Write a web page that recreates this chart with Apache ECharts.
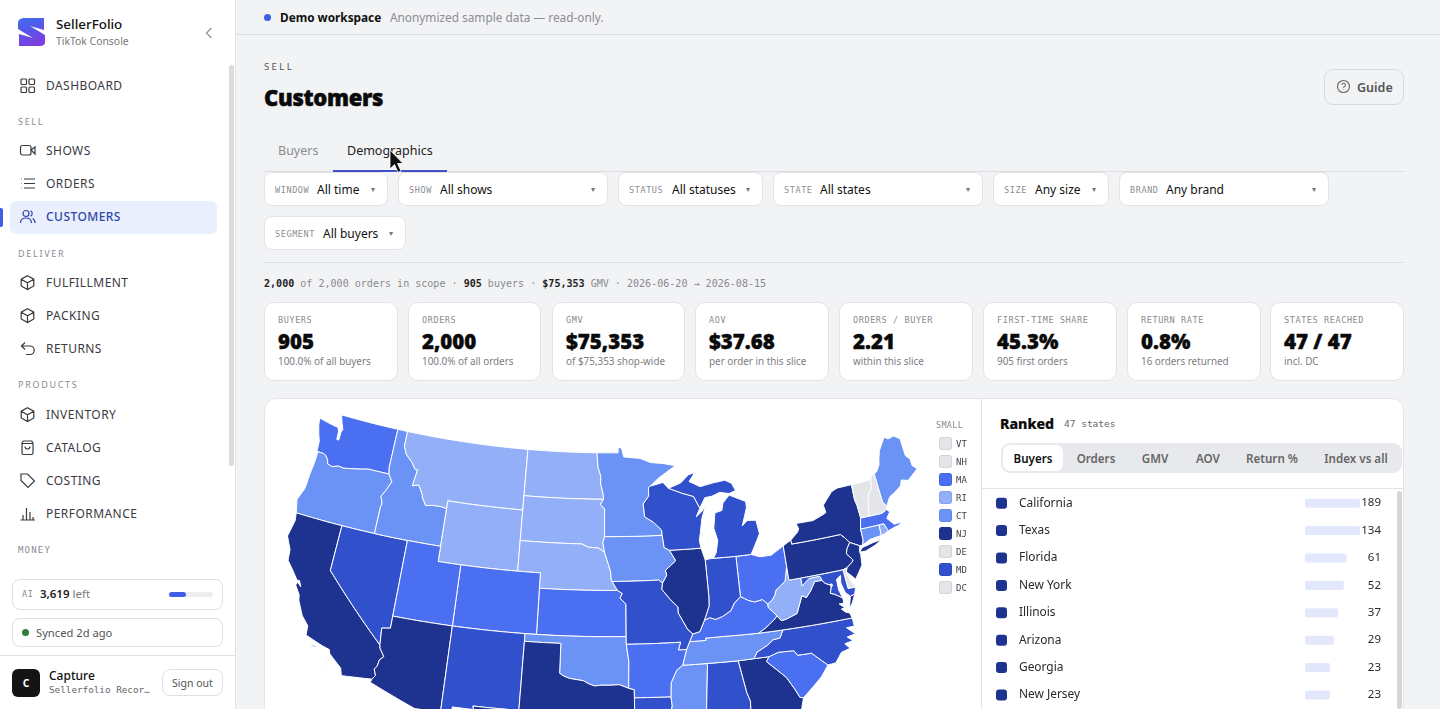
<!DOCTYPE html>
<html>
<head>
<meta charset="utf-8">
<title>Customers</title>
<script src="https://cdn.jsdelivr.net/npm/echarts@6/dist/echarts.min.js"></script>
<style>
html,body{margin:0;padding:0;width:1440px;height:709px;overflow:hidden;background:#f2f3f5;font-family:"Noto Sans",sans-serif;color:#111}
.a{position:absolute;white-space:nowrap;line-height:1}
.mono{font-family:"DejaVu Sans Mono",monospace}
.box{position:absolute;box-sizing:border-box;background:#fff;border:1px solid #e3e4e8}
.vc{transform:translateY(calc(-50% + 1px))}
.hc{transform:translate(-50%,calc(-50% + 1px))}
svg{position:absolute;overflow:visible}
</style>
</head>
<body>
<div id="page"></div>

<div class="box" style="left:264px;top:398px;width:1140px;height:500px;border-radius:12px"></div>
<div id="mapChart" style="position:absolute;left:265px;top:399px;width:716px;height:500px"></div>
<div id="rankChart" style="position:absolute;left:983px;top:488px;width:414px;height:230px"></div>

<script>
var stateNames = ['California','Texas','Florida','New York','Illinois','Arizona','Georgia','New Jersey','Pennsylvania','Virginia',
    'Michigan','North Carolina','Missouri','Nevada','Indiana','Wisconsin','Alabama','Maryland','Louisiana','New Mexico',
    'Washington','Colorado','Ohio','South Carolina','Kentucky','Massachusetts','Utah','Kansas','Arkansas',
    'Oregon','Minnesota','Oklahoma','Tennessee','Iowa','Mississippi','Idaho','Maine','Connecticut',
    'Montana','Nebraska','West Virginia','Wyoming','North Dakota','South Dakota','Rhode Island',
    'Vermont','New Hampshire','Delaware','District of Columbia'];
var stateBuyers = [189,134,61,52,37,29,23,23,21,20,
    19,18,16,14,14,13,13,13,13,12,
    11,11,11,10,9,9,8,8,8,
    6,6,6,6,5,5,4,4,4,
    3,3,3,2,2,2,2,
    0,0,0,0];

var bucketFloors = [0,1,4,7,12,20];
var bucketColors = ['#e4e5e9','#92aff8','#6b92f5','#4a6ff0','#3150cb','#1d338f'];

// ranked list
var rankedStates = ['California','Texas','Florida','New York','Illinois','Arizona','Georgia','New Jersey'];
var rankedBuyers = [189,134,61,52,37,29,23,23];

// legend for the states too small to see
var smallStates = ['Vermont','New Hampshire','Massachusetts','Rhode Island','Connecticut','New Jersey','Delaware','Maryland','District of Columbia'];
var smallCodes = ['VT','NH','MA','RI','CT','NJ','DE','MD','DC'];

// page text
var navRows = [
    ['DASHBOARD',85,'grid'],['SHOWS',150,'video'],['ORDERS',183,'list'],['CUSTOMERS',216,'users'],
    ['FULFILLMENT',282,'cube'],['PACKING',315,'cube'],['RETURNS',348,'back'],
    ['INVENTORY',414,'cube'],['CATALOG',447,'bag'],['COSTING',480,'tag'],['PERFORMANCE',513,'bars']
];
var navHeads = [['SELL',121],['DELIVER',253],['PRODUCTS',384]];
var filters = [
    ['WINDOW','All time',264,124,172,317],['SHOW','All shows',398,210,172,440],['STATUS','All statuses',618,145,172,672],
    ['STATE','All states',773,210,172,820],['SIZE','Any size',993,116,172,1035],['BRAND','Any brand',1119,210,172,1166],
    ['SEGMENT','All buyers',264,142,216,323]
];
var cards = [
    ['BUYERS','905','100.0% of all buyers',264,134],['ORDERS','2,000','100.0% of all orders',408,133],
    ['GMV','$75,353','of $75,353 shop-wide',552,133],['AOV','$37.68','per order in this slice',695,134],
    ['ORDERS / BUYER','2.21','within this slice',839,134],['FIRST-TIME SHARE','45.3%','905 first orders',983,134],
    ['RETURN RATE','0.8%','16 orders returned',1127,134],['STATES REACHED','47 / 47','incl. DC',1270,134]
];
var rankTabs = [['Buyers',1033],['Orders',1096],['GMV',1155],['AOV',1208],['Return %',1272],['Index vs all',1356]];

// 州界 - shared borders in lon/lat, so neighbours meet exactly
var borders = {
    wa_or:'-123.95 46.23,-123.4 46.22,-123.15 46.15,-122.85 45.9,-122.75 45.65,-122.3 45.55,-121.7 45.7,-121.2 45.65,-120.6 45.74,-119.95 45.83,-119.3 45.93,-118.98 46,-116.92 46',
    or_id:'-116.92 46,-116.5 45.55,-116.85 44.95,-117.2 44.45,-117.03 44.2,-116.95 43.95,-117.03 43.8,-117.03 42',
    id_mt:'-116.05 49,-116.05 48,-115.7 47.5,-115 47.05,-114.6 46.65,-114.35 46.65,-114.45 46.15,-114.55 45.56,-114 45.7,-113.8 45.5,-113.45 45.05,-113.45 44.95,-113 44.45,-112.3 44.55,-111.5 44.55,-111.05 44.48',
    colorado:'-114.63 35,-114.57 34.8,-114.14 34.3,-114.43 34.05,-114.52 33.6,-114.7 33.4,-114.5 33,-114.72 32.72',
    red:'-94.48 33.64,-95.2 33.88,-96 33.85,-96.6 33.85,-97.2 33.8,-97.7 33.95,-98.1 34.13,-99.2 34.25,-99.7 34.4,-100 34.56',
    sd_ne:'-104.05 43,-98.5 43,-97.9 42.8,-97 42.75,-96.45 42.49',
    ne_ia:'-96.45 42.49,-96.1 41.7,-95.9 41.2,-95.85 40.7,-95.77 40.58',
    ne_mo:'-95.77 40.58,-95.31 40',
    ks_mo:'-95.31 40,-94.9 39.8,-95.1 39.5,-94.6 39.11,-94.62 37',
    ks_ok:'-94.62 37,-102.05 37',
    sd_ia:'-96.45 42.49,-96.6 43.1,-96.45 43.5',
    sd_mn:'-96.45 43.5,-96.45 45.3,-96.85 45.6,-96.56 45.94',
    nd_mn:'-96.56 45.94,-96.6 46.3,-96.83 46.9,-96.85 47.5,-97.1 48,-97.23 49',
    mn_wi:'-92.1 46.75,-92.3 46.66,-92.3 46.1,-92.85 45.6,-92.75 44.75,-92 44.4,-91.25 43.85,-91.22 43.5',
    ia_wi:'-91.22 43.5,-91.1 42.7,-90.65 42.5',
    ia_il:'-90.65 42.5,-90.15 41.8,-91.1 41.2,-91 40.9,-91.4 40.4',
    ia_mo:'-91.4 40.4,-91.72 40.6,-95.77 40.58',
    mo_il:'-91.4 40.4,-91.5 40,-90.7 39.2,-90.2 38.8,-90.2 38.4,-89.5 37.3,-89.1 36.98',
    mo_ky:'-89.1 36.98,-89.4 36.5',
    mo_tn:'-89.4 36.5,-89.7 36',
    mo_ar:'-89.7 36,-90.37 36,-90.15 36.5,-94.62 36.5',
    mo_ok:'-94.62 36.5,-94.62 37',
    ar_tn:'-89.7 36,-90.1 35',
    ar_ms:'-90.1 35,-90.6 34.7,-91.1 33.9,-91.17 33',
    ar_la:'-91.17 33,-94.04 33.02',
    ar_tx:'-94.04 33.02,-94.04 33.55,-94.48 33.64',
    ar_ok:'-94.48 33.64,-94.43 35.4,-94.62 36.5',
    tx_la:'-94.04 33.02,-94.04 32,-93.55 31.2,-93.75 30.4,-93.84 29.7',
    la_ms:'-91.17 33,-91.1 32.4,-91.6 31,-89.75 31,-89.6 30.2',
    ms_al:'-88.2 35,-88.1 34.9,-88.47 31.9,-88.4 30.35',
    ms_tn:'-90.1 35,-88.2 35',
    al_tn:'-88.2 35,-85.6 34.98',
    al_ga:'-85.6 34.98,-85.2 32.85,-85 32.3,-85.05 31.55,-85 31',
    al_fl:'-85 31,-87.6 31,-87.5 30.3',
    ga_tn:'-85.6 34.98,-84.32 35',
    ga_nc:'-84.32 35,-83.1 35',
    ga_sc:'-83.1 35,-83.35 34.7,-82.75 34.2,-81.95 33.5,-81.4 32.6,-81.15 32.1,-80.88 32.03',
    ga_fl:'-85 31,-84.86 30.7,-82.2 30.57,-82.05 30.36,-81.4 30.7',
    nc_sc:'-83.1 35,-82.3 35.2,-81.05 35.15,-80.8 34.82,-79.67 34.8,-78.55 33.86',
    nc_tn:'-84.32 35,-84 35.4,-83.1 35.75,-82.6 36.05,-82 36.1,-81.68 36.59',
    nc_va:'-81.68 36.59,-75.87 36.55',
    tn_va:'-81.68 36.59,-83.68 36.6',
    ky_tn:'-83.68 36.6,-86.5 36.65,-88.07 36.65,-88.07 36.5,-89.4 36.5',
    ky_va:'-83.68 36.6,-83.1 36.85,-82.3 37.3,-81.97 37.54',
    ky_wv:'-81.97 37.54,-82.6 38.17,-82.6 38.4',
    ky_oh:'-82.6 38.4,-83 38.73,-83.7 38.65,-84.2 38.8,-84.82 39.1',
    ky_in:'-84.82 39.1,-85.4 38.73,-85.75 38.27,-86.5 37.95,-87.1 37.8,-87.6 37.95,-88.05 37.8',
    ky_il:'-88.05 37.8,-88.5 37.1,-89.1 36.98',
    il_in:'-88.05 37.8,-87.55 38.7,-87.5 39.35,-87.53 41.7',
    in_lake:'-87.53 41.7,-87.2 41.75,-86.8 41.76',
    in_mi:'-86.8 41.76,-84.8 41.73',
    in_oh:'-84.8 41.73,-84.82 39.1',
    mi_oh:'-84.8 41.73,-83.45 41.73',
    mi_wi:'-87.6 45.1,-88.1 45.9,-89.1 46.15,-90.4 46.55',
    oh_wv:'-82.6 38.4,-82.2 38.6,-81.9 38.9,-81.75 39.2,-80.85 39.7,-80.52 40.64',
    oh_pa:'-80.52 40.64,-80.52 41.98',
    pa_wv:'-80.52 40.64,-80.52 39.72,-79.48 39.72',
    md_pa:'-79.48 39.72,-75.79 39.72',
    md_wv:'-79.48 39.72,-79.48 39.2,-78.8 39.6,-78.35 39.62,-77.83 39.6,-77.72 39.32',
    va_wv:'-77.72 39.32,-78.35 39.35,-78.87 38.77,-79.3 38.42,-79.65 38.58,-80.3 37.5,-81.25 37.25,-81.68 37.2,-81.97 37.54',
    md_va:'-77.72 39.32,-77.52 39.1,-77.12 38.93,-77.05 38.8,-77.25 38.4,-76.95 38.3,-76.3 37.95',
    md_de:'-75.79 39.72,-75.7 38.46,-75.05 38.45',
    de_pa:'-75.79 39.72,-75.42 39.8',
    nj_pa:'-75.42 39.8,-74.9 40.07,-74.75 40.2,-75.2 40.7,-75.05 41,-74.7 41.36',
    ny_pa:'-74.7 41.36,-75.05 41.75,-75.35 42,-79.76 42,-79.76 42.27',
    nj_ny:'-74.7 41.36,-73.9 41',
    ny_ct:'-73.65 41,-73.5 41.3,-73.5 42.05',
    ny_ma:'-73.5 42.05,-73.25 42.75',
    ny_vt:'-73.25 42.75,-73.3 43.6,-73.4 44,-73.35 45',
    ct_ma:'-73.5 42.05,-71.8 42.02',
    ma_ri:'-71.8 42.02,-71.38 42.02,-71.15 41.5',
    ct_ri:'-71.8 42.02,-71.86 41.32',
    ma_vt:'-73.25 42.75,-72.45 42.73',
    ma_nh:'-72.45 42.73,-71.3 42.7,-70.82 42.87',
    nh_vt:'-72.45 42.73,-72.3 43.5,-72.05 44.1,-71.6 44.5,-71.5 45.01',
    me_nh:'-70.7 43.07,-70.98 43.4,-71.05 45.3'
};

// each ring is a run of border names (! = walk it backwards) and raw lon/lat stretches
var stateRings = {
    'Washington':[['-117.03 49,-122.76 49,-122.5 48.5,-122.25 48.1,-122.35 47.9,-122.35 47.35,-122.55 47.35,-122.6 47.9,-122.75 48.14,-123.15 48.17,-124.73 48.38,-124.6 47.9,-124.35 47.35,-124.1 46.9,-124.05 46.3','wa_or','-117.04 46.42']],
    'Oregon':[['wa_or','or_id','-120 42,-124.21 42,-124.5 42.85,-124.1 43.7,-124.05 44.7,-123.95 45.5']],
    'California':[['-124.21 42,-120 42,-120 39','colorado','-117.12 32.53,-117.3 33,-118.4 33.75,-118.5 34,-119.2 34.15,-120.6 34.55,-120.65 35.15,-121.3 35.7,-121.9 36.6,-122 36.95,-122.5 37.5,-122.4 37.72,-122.05 37.48,-122.3 37.85,-122.5 37.82,-123 38.3,-123.7 38.9,-123.8 39.6,-124.35 40.4,-124.1 41.5'],
        ['-120 34,-119.6 34.05,-119.6 33.95,-119.95 33.93'],['-118.6 33.47,-118.3 33.35,-118.35 33.3,-118.6 33.42'],['-118.6 33.05,-118.35 32.85,-118.4 32.8,-118.6 33']],
    'Nevada':[['-120 42,-117.03 42,-114.04 42,-114.05 37,-114.05 36.2,-114.75 36.1,-114.63 35,-120 39']],
    'Idaho':[['-117.03 49,-116.05 49','id_mt','-111.05 42,-114.04 42,-117.03 42','!or_id','-117.04 46.42']],
    'Montana':[['-116.05 49,-104.05 49,-104.05 45.94,-104.05 45,-111.05 45,-111.05 44.48','!id_mt']],
    'Wyoming':[['-111.05 45,-104.05 45,-104.05 43,-104.05 41,-111.05 41,-111.05 42,-111.05 44.48']],
    'North Dakota':[['-104.05 49,-97.23 49','!nd_mn','-104.05 45.94']],
    'South Dakota':[['-104.05 45.94','!sd_mn','!sd_ia','!sd_ne']],
    'Nebraska':[['sd_ne','ne_ia','ne_mo','-102.05 40,-102.05 41,-104.05 41']],
    'Kansas':[['-102.05 40','ks_mo','ks_ok']],
    'Colorado':[['-109.05 41,-102.05 41,-102.05 40,-102.05 37,-103 37,-109.05 37']],
    'Utah':[['-114.04 42,-111.05 42,-111.05 41,-109.05 41,-109.05 37,-114.05 37']],
    'Arizona':[['-114.05 37,-109.05 37,-109.05 31.33,-111.07 31.33,-114.81 32.5,-114.72 32.72','!colorado','-114.75 36.1,-114.05 36.2']],
    'New Mexico':[['-109.05 37,-103 37,-103 36.5,-103.04 32,-106.62 32,-106.53 31.78,-108.2 31.78,-108.2 31.33,-109.05 31.33']],
    'Oklahoma':[['-103 37,-102.05 37','!ks_ok','!mo_ok','!ar_ok','red','-100 36.5,-103 36.5']],
    'Texas':[['-106.62 32,-103.04 32,-103 36.5,-100 36.5,-100 34.56','!red','!ar_tx','tx_la','-94.7 29.4,-95.2 28.95,-96.4 28.4,-97.15 27.7,-97.35 26.9,-97.15 25.96,-97.5 25.85,-98.2 26.05,-99.1 26.4,-99.5 27.5,-100.3 28.3,-100.7 29.1,-101.4 29.77,-102.35 29.87,-102.7 29.7,-103.15 28.98,-104 29.3,-104.5 29.65,-104.9 30.55,-106.2 31.45,-106.53 31.78']],
    'Louisiana':[['ar_la','tx_la','-92.3 29.55,-91.3 29.35,-90.1 29.1,-89.4 29.1,-89.4 30','!la_ms']],
    'Mississippi':[['la_ms','-88.4 30.35','!ms_al','!ms_tn','ar_ms']],
    'Alabama':[['ms_al','-88 30.25','!al_fl','!al_ga','!al_tn']],
    'Georgia':[['al_ga','ga_fl','-80.88 32.03','!ga_sc','!ga_nc','!ga_tn']],
    'Florida':[['al_fl','-86.3 30.4,-85.3 29.7,-84 30.1,-83.4 29.5,-82.65 28.9,-82.75 27.9,-82.2 26.9,-81.8 26.1,-81.1 25.15,-80.4 25.2,-80.15 25.75,-80.05 26.9,-80.6 28.4,-81.3 29.9','!ga_fl']],
    'South Carolina':[['ga_sc','-79.9 32.7,-79.2 33.2','!nc_sc']],
    'North Carolina':[['ga_nc','nc_sc','-77.9 33.9,-77.3 34.5,-76.55 34.65,-76.9 35,-76.2 35.1,-76.6 35.4,-75.9 35.5,-76.5 36,-75.85 36','!nc_va','!nc_tn']],
    'Tennessee':[['ar_tn','ms_tn','al_tn','ga_tn','nc_tn','tn_va','ky_tn','mo_tn']],
    'Kentucky':[['!ky_tn','ky_va','ky_wv','ky_oh','ky_in','ky_il','mo_ky']],
    'Virginia':[['!tn_va','nc_va','-76 36.9,-76.3 37,-76.6 37.25,-76.3 37.3,-76.7 37.6,-76.3 37.6','!md_va','va_wv','!ky_va'],['-75.95 37.15,-75.65 37.95,-75.25 38.03,-75.6 37.5']],
    'West Virginia':[['pa_wv','md_wv','va_wv','ky_wv','oh_wv']],
    'Ohio':[['mi_oh','-82.7 41.5,-81.7 41.5','!oh_pa','!oh_wv','ky_oh','!in_oh']],
    'Indiana':[['in_lake','in_mi','in_oh','ky_in','il_in']],
    'Illinois':[['ia_il','mo_il','!ky_il','il_in','-87.6 41.9,-87.8 42.49']],
    'Iowa':[['-96.45 43.5,-91.22 43.5','ia_wi','ia_il','ia_mo','!ne_ia','sd_ia']],
    'Missouri':[['!ia_mo','mo_il','mo_ky','mo_tn','mo_ar','mo_ok','!ks_mo','!ne_mo']],
    'Arkansas':[['!mo_ar','ar_tn','ar_ms','ar_la','ar_tx','ar_ok']],
    'Minnesota':[['-97.23 49,-95.15 49,-95.15 49.38,-94.8 49.3,-94.6 48.72,-93 48.6,-92 48.3,-90.8 48.2,-89.6 48,-90.2 47.75,-91.3 47.25','mn_wi','sd_mn','nd_mn']],
    'Wisconsin':[['-92.1 46.75,-90.9 46.95','!mi_wi','-88 44.55,-87.4 44.9,-87.05 45.25,-87.5 44.4,-87.75 43.5,-87.9 43,-87.8 42.49','!ia_wi','!mn_wi']],
    'Michigan':[['mi_wi','-89.2 46.85,-88.4 47.35,-87.8 47.45,-88.4 46.9,-87.4 46.5,-86.1 46.67,-85 46.75,-84.4 46.5,-84.1 46,-84.75 45.85,-85.6 46,-86.4 45.8,-87.05 45.75'],['in_mi','mi_oh','-83.15 42.1,-82.45 43,-82.6 43.9,-83.4 43.95,-83.9 43.65,-83.3 44.8,-83.3 45.2,-84.75 45.75,-85.4 45.3,-85.6 44.8,-86.25 44.7,-86.5 43.7,-86.25 42.9,-86.5 42.1']],
    'Pennsylvania':[['oh_pa','!ny_pa','!nj_pa','!de_pa','!md_pa','!pa_wv']],
    'New York':[['ny_pa','-79.05 42.7,-78.9 42.9,-79.05 43.27,-77.5 43.25,-76.5 43.5,-76.2 43.6,-76.3 44.1,-75.3 44.85,-74.7 45','!ny_vt','!ny_ma','!ny_ct','!nj_ny'],['-74.03 40.6,-73.75 40.85,-72.7 41,-71.9 41.07,-72.6 40.8,-73.5 40.58']],
    'New Jersey':[['nj_pa','nj_ny','-74.05 40.65,-74 40.45,-74.1 39.75,-74.9 38.95,-75.15 39.2,-75.55 39.55']],
    'Delaware':[['md_de','-75.4 39.05,-75.55 39.5','!de_pa']],
    'Maryland':[['md_pa','md_de','-75.25 38.03,-75.65 37.95,-76 38.25,-76.2 38.9,-76.1 39.4,-76.5 39.2,-76.5 38.5','!md_va','!md_wv']],
    'District of Columbia':[['-77.12 38.93,-77.04 39,-76.91 38.89,-77.04 38.79']],
    'Connecticut':[['ct_ma','ct_ri','-72.9 41.25','ny_ct']],
    'Rhode Island':[['ma_ri','-71.5 41.37','!ct_ri']],
    'Massachusetts':[['ny_ma','ma_vt','ma_nh','-70.6 42.65,-71 42.3,-70.65 41.95,-70.5 41.8,-70.05 41.82,-70.2 42.08,-69.95 41.7,-70.6 41.6','!ma_ri','!ct_ma']],
    'Vermont':[['ny_vt','!nh_vt','!ma_vt']],
    'New Hampshire':[['nh_vt','-71.3 45.3','!me_nh','-70.82 42.87','!ma_nh']],
    'Maine':[['me_nh','-70.8 45.4,-70.4 45.8,-70.25 46.2,-70 46.7,-69.23 47.46,-68.9 47.28,-68.3 47.36,-67.8 47.07,-67.78 45.9,-67.45 45.6,-67.45 45.15,-67.1 44.85,-68.2 44.3,-68.8 44.45,-69 44.1,-69.8 43.75,-70.25 43.6']]
};

function parsePoints(text) {
    return text.split(',').map(function (p) {
        var xy = p.trim().split(' ');
        return [parseFloat(xy[0]), parseFloat(xy[1])];
    });
}

// long straight edges get extra points so parallels curve under the conic projection
function buildRing(parts) {
    var pts = [];
    parts.forEach(function (part) {
        var flip = part.charAt(0) === '!';
        var key = flip ? part.slice(1) : part;
        var run = parsePoints(borders[key] || key);
        if (flip) { run.reverse(); }
        pts = pts.concat(run);
    });
    pts.push(pts[0]);
    var out = [pts[0]];
    for (var i = 1; i < pts.length; i++) {
        var a = pts[i - 1], b = pts[i];
        var n = Math.ceil(Math.abs(b[0] - a[0]) / 0.5) || 1;
        for (var k = 1; k <= n; k++) {
            out.push([a[0] + (b[0] - a[0]) * k / n, a[1] + (b[1] - a[1]) * k / n]);
        }
    }
    return out;
}

var usGeo = {
    type: 'FeatureCollection',
    features: Object.keys(stateRings).map(function (name) {
        return {
            type: 'Feature',
            properties: {name: name},
            geometry: {
                type: 'MultiPolygon',
                coordinates: stateRings[name].map(function (parts) { return [buildRing(parts)]; })
            }
        };
    })
};

// Albers equal-area conic, standard parallels 29.5 / 45.5
var rad = Math.PI / 180;
var coneN = (Math.sin(29.5 * rad) + Math.sin(45.5 * rad)) / 2;
var coneC = Math.pow(Math.cos(29.5 * rad), 2) + 2 * coneN * Math.sin(29.5 * rad);
var coneRho0 = Math.sqrt(coneC - 2 * coneN * Math.sin(37.5 * rad)) / coneN;
var albers = {
    project: function (p) {
        var rho = Math.sqrt(coneC - 2 * coneN * Math.sin(p[1] * rad)) / coneN;
        var theta = coneN * (p[0] + 96) * rad;
        return [rho * Math.sin(theta), -(coneRho0 - rho * Math.cos(theta))];
    },
    unproject: function (xy) {
        var x = xy[0], y = coneRho0 + xy[1];
        var rho = Math.sqrt(x * x + y * y);
        var theta = Math.atan2(x, y);
        return [theta / coneN / rad - 96, Math.asin((coneC - rho * rho * coneN * coneN) / (2 * coneN)) / rad];
    }
};

function shadeFor(value) {
    var color = bucketColors[0];
    bucketFloors.forEach(function (floor, i) {
        if (value >= floor) { color = bucketColors[i]; }
    });
    return color;
}

function buyersOf(name) {
    return stateBuyers[stateNames.indexOf(name)];
}

// 页面外壳
var icons = {
    grid: '<rect x="1" y="1" width="5.5" height="5.5" rx="1"/><rect x="9" y="1" width="5.5" height="5.5" rx="1"/><rect x="1" y="9" width="5.5" height="5.5" rx="1"/><rect x="9" y="9" width="5.5" height="5.5" rx="1"/>',
    video: '<rect x="0.5" y="2.5" width="10.5" height="9.5" rx="2"/><path d="M11 7l4-3v7z"/>',
    list: '<path d="M4 3h11M4 7.5h11M4 12h11M1 3h.5M1 7.5h.5M1 12h.5"/>',
    users: '<circle cx="6" cy="4.5" r="3"/><path d="M0.5 14c0-3.5 2.5-5 5.5-5s5.5 1.5 5.5 5M10.5 1.8a3 3 0 0 1 0 5.4M12.5 9.5c1.6.7 2.5 2.2 2.5 4.5"/>',
    cube: '<path d="M7.5 0.8l6.3 3.4v6.8l-6.3 3.6-6.3-3.6V4.2zM1.2 4.2l6.3 3.6 6.3-3.6M7.5 7.8v6.8"/>',
    back: '<path d="M5 1.5L1.5 5 5 8.5M1.5 5h8.5a4 4 0 0 1 0 8.5H6"/>',
    bag: '<path d="M2 3l1.3-2h8.4L13 3v10a1.5 1.5 0 0 1-1.5 1.5h-8A1.5 1.5 0 0 1 2 13zM2 3.5h11M5 6.5a2.5 2.5 0 0 0 5 0"/>',
    tag: '<path d="M1 1h6.5l7 7-6.5 6.5-7-7zM4.5 4.5h.2"/>',
    bars: '<path d="M0.5 14h14.5M3 14V9M6.5 14V2M10 14V6M13 14v-3"/>'
};

function text(str, x, y, style, cls) {
    return '<div class="a ' + (cls && cls.indexOf('hc') >= 0 ? '' : 'vc ') + (cls || '') + '" style="left:' + x + 'px;top:' + y + 'px;' + style + '">' + str + '</div>';
}

function buildPage() {
    var h = '';

    // sidebar
    h += '<div style="position:absolute;left:0;top:0;width:235px;height:709px;background:#fff;border-right:1px solid #e1e2e6"></div>';
    h += '<svg style="left:18px;top:17px" width="27" height="30"><defs><linearGradient id="lg" x1="0" y1="0" x2="0.3" y2="1"><stop offset="0" stop-color="#3f6df2"/><stop offset="0.55" stop-color="#5a55ea"/><stop offset="1" stop-color="#7b3fe0"/></linearGradient></defs>'
        + '<path d="M5 1L26 1V13L12 9 27 18V25Q27 29 22 29H1V17L15 21 0 12V6Q0 2 5 1Z" fill="url(#lg)"/></svg>';
    h += text('SellerFolio', 56, 23.5, 'font-size:13.4px;font-weight:500;color:#111');
    h += text('TikTok Console', 56, 40, 'font-size:10.4px;color:#777');
    h += '<svg style="left:205px;top:27px" width="8" height="12"><path d="M6.5 1L1.5 6l5 5" fill="none" stroke="#999" stroke-width="1.4"/></svg>';
    h += '<div style="position:absolute;left:229px;top:65px;width:5px;height:401px;background:#dbdbdb;border-radius:3px"></div>';
    h += '<div style="position:absolute;left:10px;top:201px;width:207px;height:33px;background:#e9effd;border-radius:6px"></div>';
    h += '<div style="position:absolute;left:0;top:208px;width:3px;height:19px;background:#3f5fe6;border-radius:0 2px 2px 0"></div>';
    navRows.forEach(function (row) {
        var active = row[0] === 'CUSTOMERS';
        var ink = active ? '#2f47a8' : '#3a3a3f';
        h += '<svg style="left:20px;top:' + (row[1] - 7.5) + 'px" width="16" height="16" fill="none" stroke="' + ink + '" stroke-width="1.2">' + icons[row[2]] + '</svg>';
        h += text(row[0], 46, row[1] - 0.5, 'font-size:12px;font-weight:' + (active ? 500 : 400) + ';letter-spacing:0.45px;color:' + ink);
    });
    navHeads.forEach(function (row) {
        h += text(row[0], 18, row[1] - 1, 'font-size:9px;letter-spacing:1.7px;color:#8b8b90');
    });
    h += text('MONEY', 18, 549, 'font-size:9px;letter-spacing:1.2px;color:#8b8b90', 'mono');

    h += '<div class="box" style="left:12px;top:579px;width:211px;height:31px;border-radius:8px;border-color:#dfe0e4"></div>';
    h += text('AI', 22, 593, 'font-size:8.5px;color:#888;letter-spacing:0.6px', 'mono');
    h += text('<b style="font-weight:600;color:#222">3,619</b> <span style="color:#777">left</span>', 40, 593, 'font-size:11.5px');
    h += '<div style="position:absolute;left:169px;top:592px;width:44px;height:5px;background:#eceded;border-radius:3px"></div>';
    h += '<div style="position:absolute;left:169px;top:592px;width:17px;height:5px;background:#3f5fe6;border-radius:3px"></div>';
    h += '<div class="box" style="left:12px;top:618px;width:211px;height:29px;border-radius:8px;border-color:#dfe0e4"></div>';
    h += '<div style="position:absolute;left:22px;top:629px;width:7px;height:7px;background:#2e7d3a;border-radius:50%"></div>';
    h += text('Synced 2d ago', 36, 632, 'font-size:11.2px;color:#555');
    h += '<div style="position:absolute;left:0;top:655px;width:235px;height:1px;background:#e1e2e6"></div>';
    h += '<div style="position:absolute;left:12px;top:669px;width:28px;height:28px;background:#141414;border-radius:6px"></div>';
    h += text('C', 26, 682, 'font-size:10.5px;font-weight:700;color:#fff', 'hc');
    h += text('Capture', 49, 675, 'font-size:12px;font-weight:500;color:#111');
    h += text('Sellerfolio Recor…', 49, 689, 'font-size:9.3px;color:#666', 'mono');
    h += '<div class="box" style="left:162px;top:669px;width:61px;height:27px;border-radius:8px;border-color:#dfe0e4"></div>';
    h += text('Sign out', 192.5, 682, 'font-size:10.5px;color:#555', 'hc');

    // top strip and header
    h += '<div style="position:absolute;left:236px;top:34px;width:1204px;height:1px;background:#dcdde1"></div>';
    h += '<div style="position:absolute;left:264px;top:14px;width:7px;height:7px;background:#3f5fe6;border-radius:50%"></div>';
    h += text('Demo workspace', 280, 16.5, 'font-size:11.8px;font-weight:700;color:#111');
    h += text('Anonymized sample data — read-only.', 390, 16.5, 'font-size:11.83px;color:#8d8d92');
    h += text('SELL', 264, 66, 'font-size:9.5px;letter-spacing:2.4px;color:#555');
    h += text('Customers', 264, 96, 'font-size:22px;font-weight:900;color:#0a0a0a;letter-spacing:-0.3px;-webkit-text-stroke:0.5px #0a0a0a');
    h += '<div style="position:absolute;box-sizing:border-box;left:1324px;top:69px;width:80px;height:36px;border:1px solid #d8d9dd;border-radius:9px"></div>';
    h += '<svg style="left:1337px;top:80px" width="13" height="13" fill="none" stroke="#666" stroke-width="1.1"><circle cx="6.5" cy="6.5" r="6"/><path d="M4.8 5a1.8 1.8 0 1 1 2.4 1.7c-.5.2-.7.5-.7 1.1M6.5 9.6v.3"/></svg>';
    h += text('Guide', 1357, 86.5, 'font-size:12.5px;font-weight:600;color:#555');

    // tabs
    h += text('Buyers', 278, 150, 'font-size:12.5px;color:#8a8a8f');
    h += text('Demographics', 347, 150, 'font-size:12.5px;color:#222');
    h += '<div style="position:absolute;left:264px;top:171px;width:1140px;height:1px;background:#dcdde1"></div>';
    h += '<div style="position:absolute;left:333px;top:170px;width:114px;height:2px;background:#3f51c5"></div>';

    // filters
    filters.forEach(function (f) {
        h += '<div class="box" style="left:' + f[2] + 'px;top:' + f[4] + 'px;width:' + f[3] + 'px;height:34px;border-radius:8px"></div>';
        h += text(f[0], f[2] + 11, f[4] + 16.5, 'font-size:8.5px;letter-spacing:0.6px;color:#8d8d92', 'mono');
        h += text(f[1], f[5], f[4] + 17, 'font-size:12px;color:#111');
        h += text('▾', f[2] + f[3] - 15, f[4] + 16, 'font-size:8px;color:#777', 'hc');
    });
    h += '<div style="position:absolute;left:264px;top:262px;width:1140px;height:1px;background:#dcdde1"></div>';
    h += text('<b style="font-weight:600;color:#222">2,000</b> of 2,000 orders in scope · <b style="font-weight:600;color:#222">905</b> buyers · <b style="font-weight:600;color:#222">$75,353</b> GMV · 2026-06-20 → 2026-08-15', 264, 283, 'font-size:10.05px;color:#8a8a8f', 'mono');

    // stat cards
    cards.forEach(function (c) {
        h += '<div class="box" style="left:' + c[3] + 'px;top:302px;width:' + c[4] + 'px;height:79px;border-radius:10px"></div>';
        h += text(c[0], c[3] + 14, 318.5, 'font-size:8.5px;letter-spacing:0.6px;color:#8a8a8f', 'mono');
        h += text(c[1], c[3] + 14, 340, 'font-size:20.5px;font-weight:900;color:#0a0a0a;-webkit-text-stroke:0.4px #0a0a0a');
        h += text(c[2], c[3] + 14, 360.5, 'font-size:9.9px;color:#7c7c82');
    });
    document.getElementById('page').innerHTML = h;
}

function buildOverlay() {
    var h = '';
    h += '<div style="position:absolute;left:981px;top:399px;width:1px;height:310px;background:#e3e4e8"></div>';
    h += text('SMALL', 936, 424, 'font-size:8.5px;letter-spacing:0.3px;color:#8a8a8f', 'mono');
    smallStates.forEach(function (name, i) {
        var y = 443 + i * 18;
        h += '<div style="position:absolute;box-sizing:border-box;left:939px;top:' + (y - 6) + 'px;width:13px;height:13px;border-radius:3px;border:1px solid rgba(0,0,0,0.08);background:' + shadeFor(buyersOf(name)) + '"></div>';
        h += text(smallCodes[i], 956, y - 0.5, 'font-size:9px;color:#444', 'mono');
    });
    h += text('Ranked', 1000, 423, 'font-size:14.2px;font-weight:800;color:#0a0a0a;-webkit-text-stroke:0.2px #0a0a0a');
    h += text('47 states', 1064, 423, 'font-size:9.5px;color:#666', 'mono');
    h += '<div style="position:absolute;left:1001px;top:443px;width:401px;height:30px;background:#e8e9ec;border-radius:9px"></div>';
    h += '<div style="position:absolute;left:1003px;top:445px;width:60px;height:26px;background:#fff;border-radius:7px"></div>';
    rankTabs.forEach(function (t, i) {
        h += text(t[0], t[1], 457.5, 'font-size:11.6px;font-weight:600;color:' + (i === 0 ? '#111' : '#666'), 'hc');
    });
    h += '<div style="position:absolute;left:982px;top:488px;width:421px;height:1px;background:#e3e4e8"></div>';
    h += '<div style="position:absolute;left:1397px;top:491px;width:5px;height:218px;background:#d6d6d6;border-radius:3px"></div>';
    // pointer from the capture
    h += '<svg style="left:389px;top:149px" width="16" height="26"><path d="M1 1V20L5.5 15.5 9 23.5 12 22 8.5 14.5H14Z" fill="#111" stroke="#fff" stroke-width="0.8"/></svg>';
    var layer = document.createElement('div');
    layer.innerHTML = h;
    document.body.appendChild(layer);
}

buildPage();
buildOverlay();

// 地图
echarts.registerMap('usStates', usGeo);

var mapScale = 875;
var originX = 609.5 - 265;
var originY = 629 - 399;
var xMin = Infinity, xMax = -Infinity, yMin = Infinity, yMax = -Infinity;
usGeo.features.forEach(function (f) {
    f.geometry.coordinates.forEach(function (poly) {
        poly[0].forEach(function (p) {
            var q = albers.project(p);
            xMin = Math.min(xMin, q[0]); xMax = Math.max(xMax, q[0]);
            yMin = Math.min(yMin, q[1]); yMax = Math.max(yMax, q[1]);
        });
    });
});

var mapChart = echarts.init(document.getElementById('mapChart'));
mapChart.setOption({
    animation: false,
    tooltip: {show: false},
    visualMap: {
        show: false,
        type: 'piecewise',
        seriesIndex: 0,
        pieces: bucketFloors.map(function (floor, i) {
            var piece = {gte: floor, color: bucketColors[i]};
            if (i < bucketFloors.length - 1) { piece.lt = bucketFloors[i + 1]; }
            return piece;
        })
    },
    series: [{
        type: 'map',
        map: 'usStates',
        projection: albers,
        roam: false,
        silent: true,
        layoutCenter: [originX + mapScale * (xMin + xMax) / 2, originY + mapScale * (yMin + yMax) / 2],
        layoutSize: mapScale * Math.max(xMax - xMin, yMax - yMin),
        label: {show: false},
        itemStyle: {borderColor: '#fff', borderWidth: 1},
        data: stateNames.map(function (name, i) {
            return {name: name, value: stateBuyers[i]};
        })
    }]
});

// 排名条形图
var rankChart = echarts.init(document.getElementById('rankChart'));
rankChart.setOption({
    animation: false,
    grid: {left: 322, top: 1.5, width: 55, height: 219.2},
    xAxis: {type: 'log', min: 5.3, max: 134, show: false},
    yAxis: [{
        type: 'category',
        inverse: true,
        data: rankedStates,
        z: 5,
        axisLine: {show: false},
        axisTick: {show: false},
        axisLabel: {
            interval: 0,
            align: 'left',
            margin: 309,
            formatter: function (name) { return '{dot|}{name|' + name + '}'; },
            rich: {
                dot: {width: 11, height: 11, borderRadius: 3, backgroundColor: bucketColors[5]},
                name: {padding: [0, 0, 0, 12], fontFamily: 'Noto Sans', fontSize: 11.9, color: '#2a2a2e'}
            }
        }
    }, {
        type: 'category',
        inverse: true,
        position: 'right',
        data: rankedBuyers,
        z: 5,
        axisLine: {show: false},
        axisTick: {show: false},
        axisLabel: {
            interval: 0,
            align: 'right',
            margin: 21,
            fontFamily: 'Noto Sans',
            fontSize: 11.5,
            color: '#2a2a2e'
        }
    }],
    series: [{
        type: 'bar',
        yAxisIndex: 0,
        barWidth: 9,
        silent: true,
        itemStyle: {color: '#e2e7fb', borderRadius: 2},
        data: rankedBuyers
    }]
});
</script>
</body>
</html>
